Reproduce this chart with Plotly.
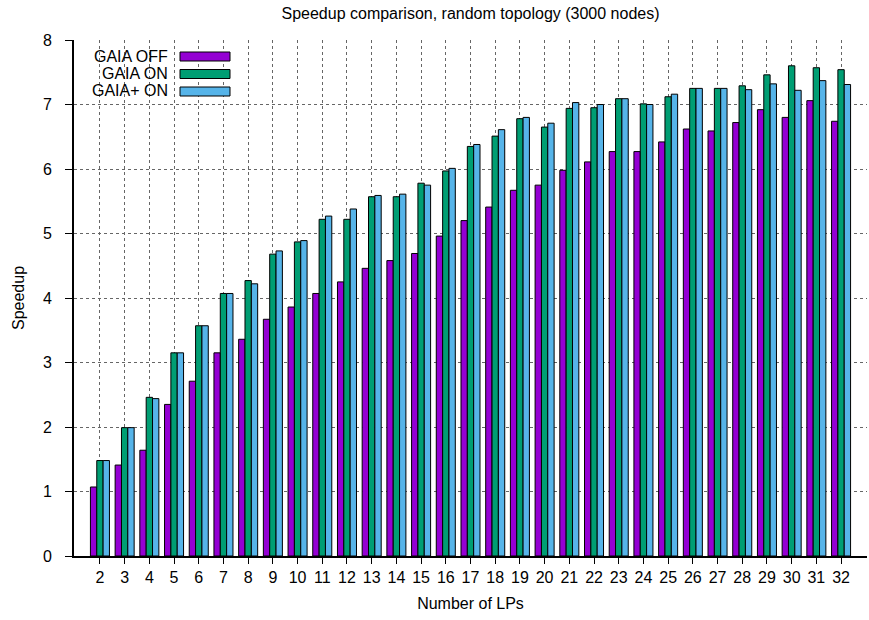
import plotly.graph_objects as go

lps = list(range(2, 33))
gaia_off = [1.07, 1.41, 1.64, 2.35, 2.71, 3.15, 3.36, 3.67, 3.86, 4.07, 4.25, 4.46, 4.58, 4.69, 4.96,
            5.20, 5.41, 5.67, 5.75, 5.98, 6.11, 6.27, 6.27, 6.42, 6.62, 6.59, 6.72, 6.92, 6.80, 7.06, 6.74]
gaia_on = [1.48, 1.99, 2.46, 3.15, 3.57, 4.07, 4.27, 4.68, 4.87, 5.22, 5.22, 5.57, 5.57, 5.78, 5.97,
           6.35, 6.51, 6.78, 6.65, 6.94, 6.95, 7.09, 7.01, 7.12, 7.25, 7.25, 7.29, 7.46, 7.60, 7.57, 7.54]
gaia_plus_on = [1.48, 1.99, 2.44, 3.15, 3.57, 4.07, 4.22, 4.73, 4.89, 5.27, 5.38, 5.59, 5.61, 5.75, 6.01,
                6.38, 6.61, 6.80, 6.71, 7.03, 7.00, 7.09, 7.00, 7.16, 7.25, 7.25, 7.23, 7.32, 7.22, 7.37, 7.31]

names = ["GAIA OFF", "GAIA ON", "GAIA+ ON"]
colors = ["#9400D3", "#009E73", "#56B4E9"]
series = [gaia_off, gaia_on, gaia_plus_on]

FONT = "Liberation Sans, Arial, sans-serif"
FS = 16
PW, PH, L, T = 793.0, 516.0, 74, 40

fig = go.Figure()
for name, vals, col in zip(names, series, colors):
    fig.add_trace(go.Bar(x=lps, y=vals, name=name, marker=dict(color=col, line=dict(color="black", width=1)),
                         showlegend=False))

# custom legend (text right-aligned, swatch on the right, like gnuplot's key)
for i, (name, col) in enumerate(zip(names, colors)):
    off = 16.5 + 17.5 * i
    yc = 1 - off / PH
    fig.add_annotation(x=(169 - L) / PW, y=1 - (off - 0.5) / PH, xref="paper", yref="paper", text=name,
                       showarrow=False, xanchor="right", yanchor="middle", borderpad=0,
                       font=dict(family=FONT, size=16, color="black"))
    fig.add_shape(type="rect", xref="paper", yref="paper",
                  x0=(180 - L) / PW, x1=(230 - L) / PW,
                  y0=yc - 4.5 / PH, y1=yc + 4.5 / PH,
                  fillcolor=col, line=dict(color="black", width=1))

fig.update_layout(
    width=869, height=620,
    margin=dict(l=L, r=2, t=T, b=64),
    paper_bgcolor="white", plot_bgcolor="white",
    barmode="group", bargap=0.23, bargroupgap=0,
    font=dict(family=FONT, size=FS, color="black"),
    title=dict(text="Speedup comparison, random topology (3000 nodes)", x=(74 + 867) / 2 / 869, xanchor="center",
               y=1 - 13 / 620, yanchor="middle", font=dict(family=FONT, size=FS)),
    xaxis=dict(range=[0.95, 33.05], tickvals=lps, ticktext=[str(v) for v in lps], ticks="outside", ticklen=6,
               tickcolor="black", showgrid=True, gridcolor="#666", griddash="dot", gridwidth=1,
               showline=True, linecolor="black", linewidth=2, zeroline=False,
               title=dict(text="Number of LPs", standoff=13, font=dict(family=FONT, size=FS)),
               tickfont=dict(family=FONT, size=FS)),
    yaxis=dict(range=[0, 8], dtick=1, ticks="outside", ticklen=7, tickcolor="black",
               showgrid=True, gridcolor="#666", griddash="dot", gridwidth=1,
               showline=True, linecolor="black", linewidth=2, zeroline=False, ticklabelstandoff=10,
               title=dict(text="Speedup", standoff=14, font=dict(family=FONT, size=FS)),
               tickfont=dict(family=FONT, size=FS)),
)

fig.write_html("out.html")
